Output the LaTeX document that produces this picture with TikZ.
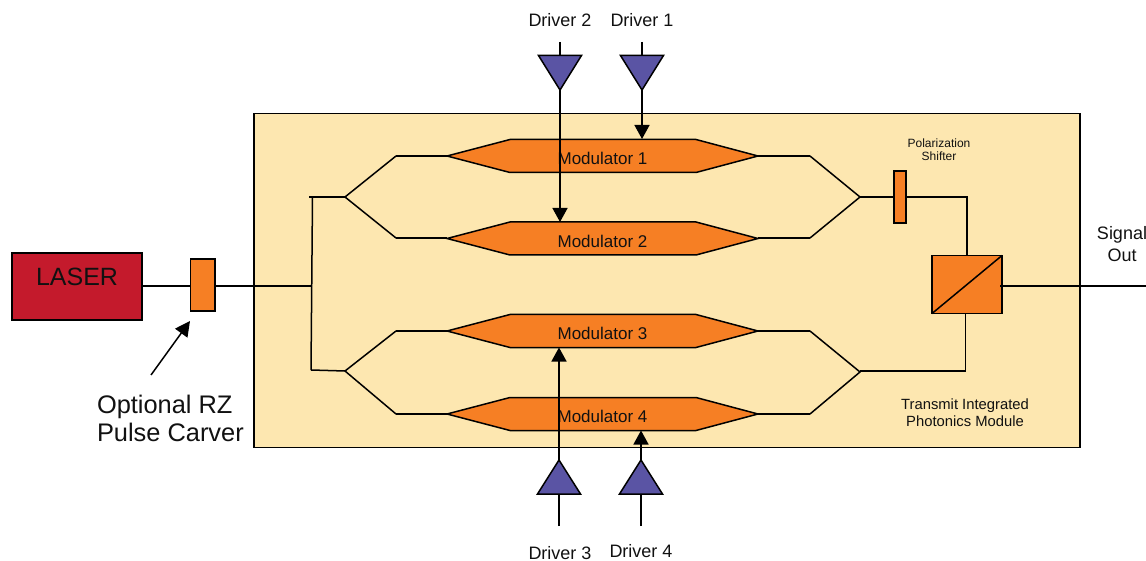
\documentclass[tikz,border=0pt]{standalone}
\usepackage{fontspec}
\setmainfont{Liberation Sans}
\usetikzlibrary{arrows.meta}
\definecolor{cream}{HTML}{FDE7B0}
\definecolor{orng}{HTML}{F67F24}
\definecolor{lasred}{HTML}{C41A2C}
\definecolor{drvblue}{HTML}{5A54A4}
\definecolor{ink}{HTML}{111111}
\newcommand{\fs}[2]{\fontsize{#1}{#2}\selectfont}
\newcommand{\hexmod}[3]{% name, centre y, label
  \coordinate (#1L) at (447,#2);
  \coordinate (#1R) at (758,#2);
  \filldraw[part] (#1L) -- (510,#2-16.5) -- (696,#2-16.5) -- (#1R) -- (696,#2+16.5) -- (510,#2+16.5) -- cycle;
  \node[lab,font=\fs{17}{20}] (#1T) at (602.5,#2+2.5) {#3};
}
\newcommand{\ampdown}[2]{% name, x
  \coordinate (#1in) at (#2,42);
  \coordinate (#1top) at (#2,55.5);
  \coordinate (#1tip) at (#2,90);
  \filldraw[amp] (#2-21.5,55.5) -- (#2+21.5,55.5) -- (#1tip) -- cycle;
  \draw[wire] (#1in) -- (#1top);
}
\newcommand{\ampup}[2]{% name, x
  \coordinate (#1in) at (#2,526);
  \coordinate (#1top) at (#2,494);
  \coordinate (#1tip) at (#2,460);
  \filldraw[amp] (#2-21.5,494) -- (#2+21.5,494) -- (#1tip) -- cycle;
  \draw[wire] (#1in) -- (#1top);
}
\tikzset{
  x=1pt,y=-1pt,
  wire/.style={draw=black,line width=1.5pt,line cap=butt,line join=miter},
  part/.style={draw=black,fill=orng,line width=1.5pt,line join=miter},
  amp/.style={draw=black,fill=drvblue,line width=1.5pt,line join=miter},
  lab/.style={inner sep=0pt,outer sep=0pt,text=ink,align=center},
  drive/.style={wire,-{Triangle[length=14pt,width=15pt]},shorten >=0pt},
  boxnode/.style={draw=black,line width=1.5pt,inner sep=0pt,outer sep=0pt},
}
\begin{document}
\begin{tikzpicture}
\useasboundingbox (0,0) rectangle (1146,561);
% module
\node[boxnode,fill=cream,anchor=north west,minimum width=826pt,minimum height=334pt] (module) at (254,113.5) {};
% laser & carver
\node[boxnode,fill=lasred,anchor=north west,minimum width=130pt,minimum height=67pt] (laser) at (12,253) {};
\node[lab,font=\fs{25}{28}] (lasertxt) at (77,277) {LASER};
\node[part,anchor=north west,inner sep=0pt,outer sep=0pt,minimum width=24.5pt,minimum height=52pt] (carver) at (190.5,259) {};
% junctions
\coordinate (busmid) at (311,286);
\coordinate (bustop) at (312.5,197);
\coordinate (busbot) at (311,370);
\coordinate (upsplit) at (345,197);
\coordinate (losplit) at (345,371);
\coordinate (upjoin) at (860,197);
\coordinate (lojoin) at (860,372);
\coordinate (u1) at (396,156);
\coordinate (u2) at (396,238);
\coordinate (l1) at (396,331);
\coordinate (l2) at (396,414);
\coordinate (r1) at (810,156);
\coordinate (r2) at (810,238);
\coordinate (r3) at (810,331);
\coordinate (r4) at (810,414);
\coordinate (corner1) at (967,197);
\coordinate (corner2) at (965.5,371);
\coordinate (sigend) at (1146,286);
% wiring
\draw[wire] (laser.east |- busmid) -- (carver.west |- busmid);
\draw[wire] (carver.east |- busmid) -- (busmid);
\draw[wire] (bustop) -- (busbot);
\draw[wire] (309,197) -- (upsplit);
\draw[wire] (busbot) -- (losplit);
\draw[wire,line join=round] (u1) -- (upsplit) -- (u2);
\draw[wire,line join=round] (l1) -- (losplit) -- (l2);
\draw[wire,line join=round] (r1) -- (upjoin) -- (r2);
\draw[wire,line join=round] (r3) -- (lojoin) -- (r4);
% modulators
\draw[wire] (u1) -- (447,156);
\draw[wire] (u2) -- (447,238);
\draw[wire] (l1) -- (447,331);
\draw[wire] (l2) -- (447,414);
\draw[wire] (758,156) -- (r1);
\draw[wire] (758,238) -- (r2);
\draw[wire] (758,331) -- (r3);
\draw[wire] (758,414) -- (r4);
\hexmod{mA}{156}{Modulator 1}
\hexmod{mB}{238.5}{Modulator 2}
\hexmod{mC}{331}{Modulator 3}
\hexmod{mD}{414}{Modulator 4}
% polarization & combiner
\node[part,anchor=north west,inner sep=0pt,outer sep=0pt,minimum width=12pt,minimum height=52pt] (shifter) at (894,171) {};
\node[part,anchor=north west,inner sep=0pt,outer sep=0pt,minimum width=70pt,minimum height=58pt] (combiner) at (932,255.5) {};
\draw[wire] (upjoin) -- (shifter.west |- upjoin);
\draw[wire] (shifter.east |- upjoin) -- (corner1) -- (corner1 |- combiner.north);
\draw[wire] (lojoin |- corner2) -- (corner2) -- (corner2 |- combiner.south);
\draw[wire] (combiner.south west) -- (combiner.north east);
\draw[wire] (1000,286) -- (sigend);
% drivers
\ampdown{dB}{560}
\ampdown{dA}{642}
\ampup{dC}{559}
\ampup{dD}{641}
\draw[drive] (dAtip) -- (642,139);
\draw[drive] (dBtip) -- (560,222);
\draw[drive] (dCtip) -- (559,347.5);
\draw[drive] (dDtip) -- (641,430.5);
% texts
\node[lab,font=\fs{18}{20}] (d2) at (560,20) {Driver 2};
\node[lab,font=\fs{18}{20}] (d1) at (642,20) {Driver 1};
\node[lab,font=\fs{18}{20}] (d3) at (560,553) {Driver 3};
\node[lab,font=\fs{18}{20}] (d4) at (641,551) {Driver 4};
\node[lab,font=\fs{12}{13}] (pol) at (939,150) {Polarization\\Shifter};
\node[lab,font=\fs{14.8}{17}] (tip) at (965,412.5) {Transmit Integrated\\Photonics Module};
\node[lab,font=\fs{18}{22}] (sig) at (1122,244) {Signal\\Out};
\node[lab,align=left,anchor=west,font=\fs{25.4}{28}] (rz) at (97,418) {Optional RZ\\Pulse Carver};
\coordinate (rzarrow) at (151,375);
\coordinate (rztip) at (190,321);
\draw[wire,-{Triangle[length=15pt,width=15pt]}] (rzarrow) -- (rztip);
\end{tikzpicture}
\end{document}
